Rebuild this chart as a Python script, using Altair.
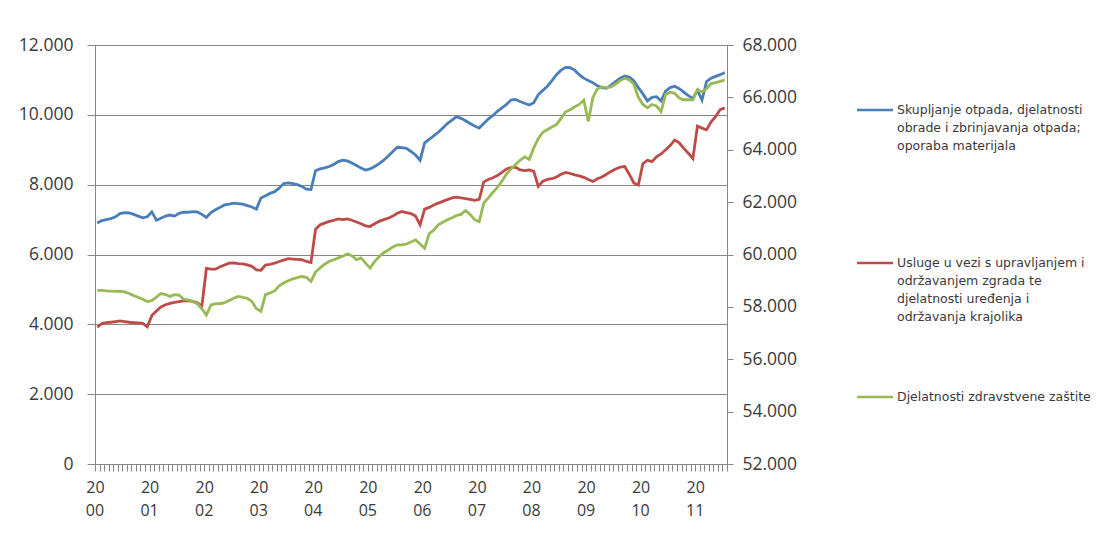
import altair as alt
import pandas as pd

# Skupljanje otpada ... (left axis)
blue_vals = [
    6900, 6970, 7000, 7030, 7080, 7170, 7200, 7190, 7150, 7100,
    7050, 7080, 7220, 6980, 7040, 7100, 7130, 7100, 7180, 7210,
    7210, 7230, 7220, 7150, 7060, 7200, 7280, 7350, 7420, 7440,
    7470, 7460, 7440, 7400, 7360, 7300, 7620, 7680, 7750, 7800,
    7900, 8030, 8050, 8030, 8000, 7950, 7870, 7860, 8400, 8450,
    8480, 8520, 8580, 8660, 8700, 8680, 8620, 8550, 8480, 8420,
    8450, 8520, 8600, 8700, 8820, 8950, 9070, 9060, 9040, 8950,
    8850, 8700, 9200, 9300, 9400, 9500, 9620, 9750, 9850, 9950,
    9900, 9830, 9750, 9680, 9620, 9750, 9880, 9980, 10100, 10200,
    10300, 10420, 10440, 10380, 10330, 10280, 10350, 10580, 10700, 10820,
    10980, 11150, 11280, 11360, 11350, 11280, 11150, 11050, 10980, 10920,
    10830, 10780, 10760, 10850, 10950, 11050, 11110, 11080, 10980, 10780,
    10600, 10400, 10500, 10520, 10400, 10680, 10780, 10820, 10750, 10650,
    10550, 10470, 10700, 10420, 10950, 11050, 11100, 11150, 11210,
]

# Usluge u vezi s upravljanjem ... (left axis)
red_vals = [
    3920, 4020, 4050, 4060, 4080, 4100, 4080, 4060, 4050, 4040,
    4030, 3930, 4250, 4380, 4500, 4560, 4600, 4630, 4650, 4670,
    4680, 4660, 4620, 4520, 5600, 5580, 5580, 5650, 5700, 5750,
    5760, 5740, 5730, 5700, 5660, 5560, 5550, 5700, 5720, 5750,
    5800, 5840, 5880, 5870, 5860, 5850, 5800, 5770, 6720, 6850,
    6900, 6950, 6980, 7020, 7000, 7020, 6980, 6930, 6880, 6820,
    6800, 6880, 6950, 7000, 7040, 7100, 7180, 7230, 7200, 7170,
    7100, 6850, 7300, 7350, 7420, 7470, 7520, 7570, 7620, 7640,
    7620, 7600, 7580, 7550, 7580, 8080, 8150, 8200, 8260, 8350,
    8450, 8490, 8500, 8420, 8400, 8420, 8380, 7950, 8100, 8150,
    8170, 8220, 8300, 8350, 8320, 8280, 8250, 8210, 8150, 8090,
    8170, 8220, 8300, 8380, 8450, 8500, 8520, 8300, 8050, 7990,
    8600, 8700, 8660, 8800, 8880, 9000, 9120, 9280, 9200, 9040,
    8900, 8750, 9680, 9620, 9570, 9800, 9950, 10150, 10200,
]

# Djelatnosti zdravstvene zaštite (right axis)
green_vals = [
    58630, 58630, 58610, 58600, 58590, 58600, 58570, 58510, 58430, 58370,
    58290, 58200, 58240, 58370, 58510, 58470, 58400, 58470, 58450, 58290,
    58270, 58200, 58120, 57930, 57690, 58070, 58120, 58120, 58160, 58240,
    58330, 58400, 58360, 58330, 58210, 57930, 57830, 58470, 58530, 58610,
    58800, 58910, 59000, 59070, 59120, 59160, 59130, 58970, 59330, 59490,
    59630, 59730, 59800, 59870, 59930, 60030, 59950, 59800, 59870, 59670,
    59480, 59730, 59920, 60070, 60170, 60290, 60370, 60370, 60400, 60480,
    60560, 60400, 60240, 60800, 60930, 61130, 61230, 61330, 61400, 61490,
    61530, 61680, 61530, 61330, 61250, 61960, 62160, 62370, 62560, 62800,
    63070, 63270, 63440, 63600, 63730, 63630, 64070, 64430, 64670, 64770,
    64870, 64960, 65200, 65450, 65530, 65640, 65730, 65890, 65080, 66000,
    66330, 66400, 66370, 66400, 66510, 66640, 66730, 66670, 66510, 66000,
    65730, 65600, 65730, 65670, 65450, 66110, 66200, 66160, 65970, 65910,
    65910, 65910, 66290, 66210, 66330, 66530, 66560, 66610, 66670,
]

left_ticks = [0, 2000, 4000, 6000, 8000, 10000, 12000]
right_ticks = [52000, 54000, 56000, 58000, 60000, 62000, 64000, 66000, 68000]
year_suffix = ["00", "01", "02", "03", "04", "05", "06", "07", "08", "09", "10", "11"]

legend_lines = [
    ["Skupljanje otpada, djelatnosti", "obrade i zbrinjavanja otpada;", "oporaba materijala"],
    ["Usluge u vezi s upravljanjem i", "održavanjem zgrada te", "djelatnosti uređenja i", "održavanja krajolika"],
    ["Djelatnosti zdravstvene zaštite"],
]

BLUE = "#4A7EBB"
RED = "#BE4B48"
GREEN = "#98B954"
GRID = "#868686"
TXT = "#3a3a3a"
FONT = "Open Sans"
LEG_FONT = "DejaVu Sans"

n = len(blue_vals)
df = pd.DataFrame({
    "idx": [i + 0.5 for i in range(n)],
    "blue": blue_vals,
    "red": red_vals,
    "green": green_vals,
})
years_df = pd.DataFrame({
    "idx": [12 * k for k in range(len(year_suffix))],
    "suffix": year_suffix,
})

thousands = "replace(format(datum.value, ','), ',', '.')"

x_scale = alt.Scale(domain=[0, n], nice=False, zero=False)
x_axis = alt.Axis(
    values=list(range(n + 1)),
    labelExpr="datum.value % 12 == 0 ? '20' : ''",
    tickSize=7, tickColor=GRID, domainColor=GRID, grid=False,
    labelOverlap=False, labelFlush=False, labelFontSize=16,
    labelPadding=8, labelBaseline="top", labelColor=TXT, labelFont=FONT,
    title=None,
)
x_enc = alt.X("idx:Q", scale=x_scale, axis=x_axis)

left_scale = alt.Scale(domain=[0, 12000], nice=False, zero=True)
left_axis = alt.Axis(
    values=left_ticks, labelExpr=thousands, grid=True, gridColor=GRID, gridOpacity=1,
    domainColor=GRID, tickColor=GRID, tickSize=8, labelPadding=14, labelFontSize=17.5,
    labelColor=TXT, labelFont=FONT, title=None,
)

base = alt.Chart(df)
blue_line = base.mark_line(color=BLUE, strokeWidth=2.8).encode(
    x=x_enc, y=alt.Y("blue:Q", scale=left_scale, axis=left_axis))
red_line = base.mark_line(color=RED, strokeWidth=2.8).encode(
    x=x_enc, y=alt.Y("red:Q", scale=left_scale, axis=left_axis))
left = alt.layer(blue_line, red_line)

green_line = base.mark_line(color=GREEN, strokeWidth=2.8).encode(
    x=x_enc,
    y=alt.Y("green:Q", scale=alt.Scale(domain=[52000, 68000], nice=False, zero=False),
            axis=alt.Axis(orient="right", values=right_ticks, labelExpr=thousands, grid=False,
                          domainColor=GRID, tickColor=GRID, tickSize=6, labelPadding=9,
                          labelFontSize=17.5, labelColor=TXT, labelFont=FONT, title=None)),
)

# second line of the year labels ("00", "01", ...)
year_line2 = alt.Chart(years_df).mark_text(
    align="center", baseline="top", fontSize=16, font=FONT, color=TXT
).encode(
    x=x_enc,
    y=alt.value(458),
    text="suffix:N",
)

legend_layers = []
legend_y = [65, 218, 352]
for lines, color, ly in zip(legend_lines, [BLUE, RED, GREEN], legend_y):
    one = pd.DataFrame({"k": [0]})
    legend_layers.append(
        alt.Chart(one).mark_rule(color=color, strokeWidth=2.5).encode(
            x=alt.value(762), x2=alt.value(798), y=alt.value(ly)))
    legend_layers.append(
        alt.Chart(one).mark_text(align="left", baseline="middle", fontSize=12.5, lineHeight=18,
                                 font=LEG_FONT, color=TXT, text=lines).encode(
            x=alt.value(802), y=alt.value(ly)))

chart = alt.layer(left, green_line, year_line2, *legend_layers).resolve_scale(y="independent").properties(
    width=632, height=419,
    padding={"left": 10, "top": 28, "right": 0, "bottom": 10},
).configure_view(stroke=None).configure(background="white")

chart.save("out.html", embed_options={"renderer": "svg", "actions": False})
